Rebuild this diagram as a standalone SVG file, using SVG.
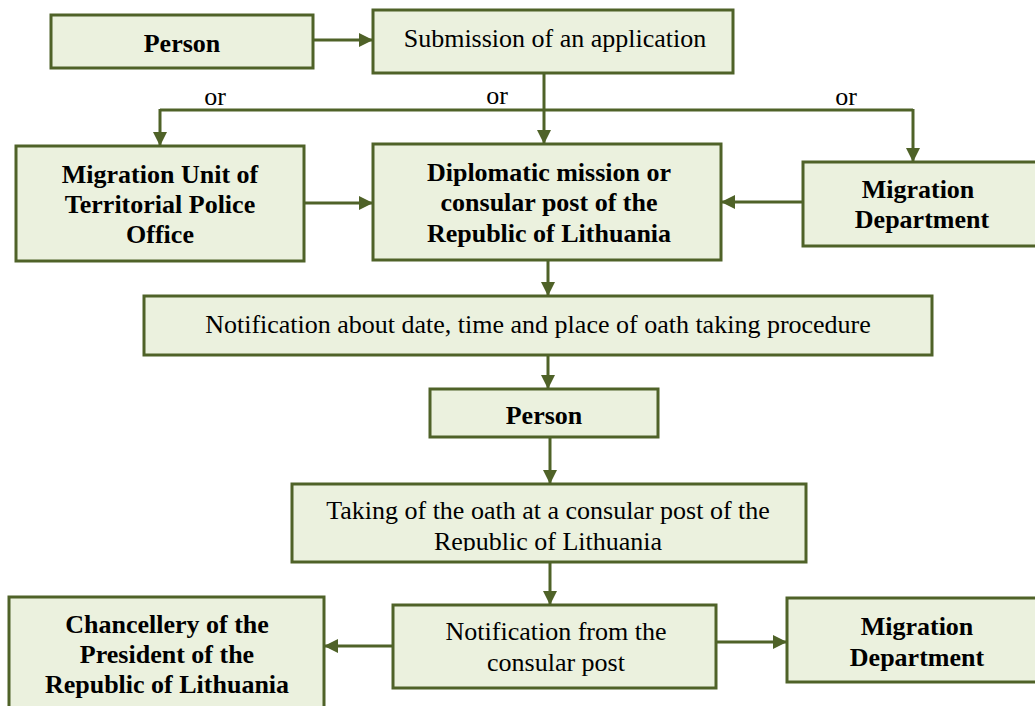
<svg xmlns="http://www.w3.org/2000/svg" width="1035" height="706" viewBox="0 0 1035 706">
<style>
.box{fill:#EBF1DE;stroke:#4F6228;stroke-width:3}
.t{font-family:"Liberation Serif","Times New Roman",serif;font-size:26px;fill:#000;text-anchor:middle}
.b{font-weight:bold}
.c{fill:none;stroke:#4F6228;stroke-width:3}
</style>
<defs>
<marker id="ah" viewBox="0 0 14 14" refX="14" refY="7" markerWidth="14" markerHeight="14" markerUnits="userSpaceOnUse" orient="auto">
<path d="M0,0 L14,7 L0,14 Z" fill="#4F6228"/>
</marker>
<clipPath id="clipTake"><rect x="292" y="484" width="514" height="67"/></clipPath>
</defs>
<rect width="1035" height="706" fill="#fff"/>
<g id="connectors">
<line class="c" x1="313" y1="40" x2="373" y2="40" marker-end="url(#ah)"/>
<line class="c" x1="544" y1="73" x2="544" y2="144" marker-end="url(#ah)"/>
<polyline class="c" points="160,110 913,110"/>
<line class="c" x1="160" y1="109" x2="160" y2="146" marker-end="url(#ah)"/>
<line class="c" x1="913" y1="109" x2="913" y2="162" marker-end="url(#ah)"/>
<line class="c" x1="304" y1="203" x2="373" y2="203" marker-end="url(#ah)"/>
<line class="c" x1="803" y1="202" x2="721" y2="202" marker-end="url(#ah)"/>
<line class="c" x1="548" y1="260" x2="548" y2="296" marker-end="url(#ah)"/>
<line class="c" x1="548" y1="355" x2="548" y2="389" marker-end="url(#ah)"/>
<line class="c" x1="550" y1="437" x2="550" y2="484" marker-end="url(#ah)"/>
<line class="c" x1="550" y1="562" x2="550" y2="605" marker-end="url(#ah)"/>
<line class="c" x1="393" y1="646" x2="324" y2="646" marker-end="url(#ah)"/>
<line class="c" x1="716" y1="642" x2="787" y2="642" marker-end="url(#ah)"/>
<text class="t" x="215" y="105">or</text>
<text class="t" x="497" y="104">or</text>
<text class="t" x="846" y="105">or</text>
</g>
<g id="person1">
<rect class="box" x="51" y="15" width="262" height="53"/>
<text class="t b" x="182" y="52">Person</text>
</g>
<g id="submission">
<rect class="box" x="373" y="10" width="360" height="63"/>
<text class="t" x="555" y="47">Submission of an application</text>
</g>
<g id="migration-unit">
<rect class="box" x="16" y="146" width="288" height="115"/>
<text class="t b" x="160" y="183">Migration Unit of</text>
<text class="t b" x="160" y="213">Territorial Police</text>
<text class="t b" x="160" y="243">Office</text>
</g>
<g id="diplomatic">
<rect class="box" x="373" y="144" width="348" height="116"/>
<text class="t b" x="549" y="181">Diplomatic mission or</text>
<text class="t b" x="549" y="211">consular post of the</text>
<text class="t b" x="549" y="242">Republic of Lithuania</text>
</g>
<g id="migration-dept1">
<rect class="box" x="803" y="162" width="240" height="84"/>
<text class="t b" x="918" y="198">Migration</text>
<text class="t b" x="922" y="228">Department</text>
</g>
<g id="notification1">
<rect class="box" x="144" y="296" width="788" height="59"/>
<text class="t" x="538" y="333">Notification about date, time and place of oath taking procedure</text>
</g>
<g id="person2">
<rect class="box" x="430" y="389" width="228" height="48"/>
<text class="t b" x="544" y="424">Person</text>
</g>
<g id="taking-oath">
<rect class="box" x="292" y="484" width="514" height="78"/>
<text class="t" x="548" y="519">Taking of the oath at a consular post of the</text>
<text class="t" x="548" y="550" clip-path="url(#clipTake)">Republic of Lithuania</text>
</g>
<g id="notification2">
<rect class="box" x="393" y="605" width="323" height="83"/>
<text class="t" x="556" y="640">Notification from the</text>
<text class="t" x="556" y="671">consular post</text>
</g>
<g id="chancellery">
<rect class="box" x="9" y="597" width="315" height="120"/>
<text class="t b" x="167" y="633">Chancellery of the</text>
<text class="t b" x="167" y="663">President of the</text>
<text class="t b" x="167" y="693">Republic of Lithuania</text>
</g>
<g id="migration-dept2">
<rect class="box" x="787" y="598" width="260" height="84"/>
<text class="t b" x="917" y="635">Migration</text>
<text class="t b" x="917" y="666">Department</text>
</g>
</svg>
